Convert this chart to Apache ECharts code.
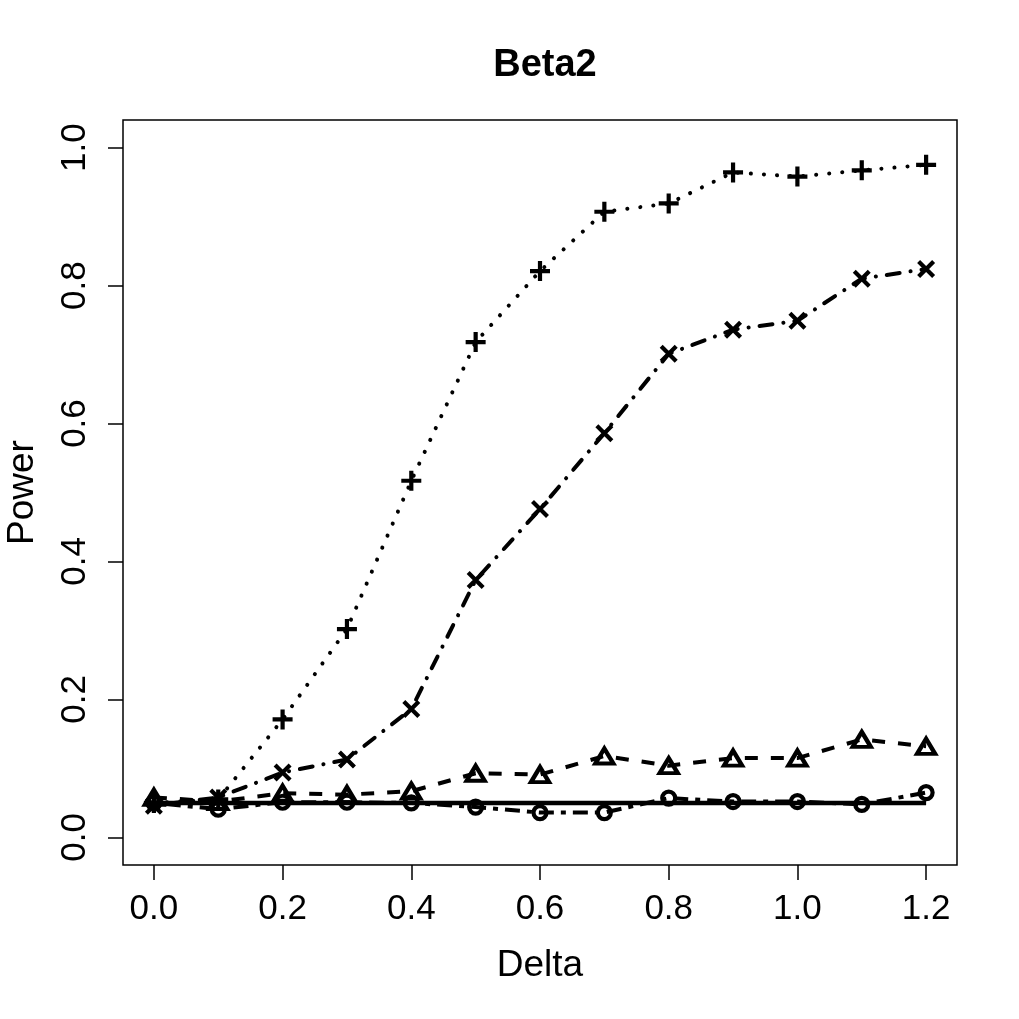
<!DOCTYPE html>
<html>
<head>
<meta charset="utf-8">
<script src="https://cdn.jsdelivr.net/npm/echarts@6/dist/echarts.min.js"></script>
<style>
  html, body { margin: 0; padding: 0; background: #fff; }
  #chart { width: 1019px; height: 1019px; }
</style>
</head>
<body>
<div id="chart"></div>
<script>
// data
const delta = [0.0, 0.1, 0.2, 0.3, 0.4, 0.5, 0.6, 0.7, 0.8, 0.9, 1.0, 1.1, 1.2];
const powerPlus = [0.050, 0.055, 0.171, 0.302, 0.517, 0.718, 0.821, 0.907, 0.919, 0.964, 0.958, 0.967, 0.975];
const powerCross = [0.046, 0.058, 0.094, 0.113, 0.186, 0.373, 0.476, 0.586, 0.701, 0.736, 0.749, 0.810, 0.824];
const powerTriangle = [0.058, 0.052, 0.064, 0.062, 0.067, 0.093, 0.091, 0.118, 0.104, 0.115, 0.115, 0.142, 0.132];
const powerCircle = [0.050, 0.041, 0.051, 0.051, 0.050, 0.044, 0.036, 0.036, 0.057, 0.052, 0.052, 0.048, 0.065];
const nominal = [0.05, 0.05, 0.05, 0.05, 0.05, 0.05, 0.05, 0.05, 0.05, 0.05, 0.05, 0.05, 0.05];
const xTicks = [0.0, 0.2, 0.4, 0.6, 0.8, 1.0, 1.2];
const yTicks = [0.0, 0.2, 0.4, 0.6, 0.8, 1.0];

const FONT = '"Liberation Sans", Arial, sans-serif';
const pairs = (ys) => delta.map((d, i) => [d, ys[i]]);

// 标记样式
const markStyle = { color: 'rgba(0,0,0,0)', borderColor: '#000', borderWidth: 4.2 };

const myChart = echarts.init(document.getElementById('chart'));

const options = {
  animation: false,
  backgroundColor: '#fff',
  title: {
    text: 'Beta2',
    left: 540,
    textAlign: 'center',
    top: 42,
    textStyle: { fontFamily: FONT, fontSize: 38, fontWeight: 'bold', color: '#000' }
  },
  grid: {
    left: 123, right: 62, top: 120, bottom: 154,
    outerBoundsMode: 'none',
    containLabel: false,
    show: true, borderColor: '#000', borderWidth: 1.5, backgroundColor: 'transparent'
  },
  xAxis: {
    type: 'value',
    min: -0.048,
    max: 1.248,
    name: 'Delta',
    nameLocation: 'middle',
    nameGap: 82,
    nameTextStyle: { fontFamily: FONT, fontSize: 37, color: '#000' },
    axisLine: { show: false, onZero: false },
    axisTick: { show: true, inside: false, length: 15, customValues: xTicks, lineStyle: { color: '#000', width: 1.5 } },
    axisLabel: {
      customValues: xTicks,
      margin: 27,
      fontFamily: FONT, fontSize: 35, color: '#000',
      formatter: (v) => v.toFixed(1)
    },
    splitLine: { show: false }
  },
  yAxis: {
    type: 'value',
    min: -0.04,
    max: 1.04,
    name: 'Power',
    nameLocation: 'middle',
    nameGap: 82,
    nameRotate: 90,
    nameTextStyle: { fontFamily: FONT, fontSize: 37, color: '#000' },
    axisLine: { show: false, onZero: false },
    axisTick: { show: true, inside: false, length: 15, customValues: yTicks, lineStyle: { color: '#000', width: 1.5 } },
    axisLabel: {
      customValues: yTicks,
      rotate: 90,
      margin: 30,
      fontFamily: FONT, fontSize: 35, color: '#000',
      formatter: (v) => v.toFixed(1)
    },
    splitLine: { show: false }
  },
  series: [
    {
      name: 'nominal',
      type: 'line',
      data: pairs(nominal),
      showSymbol: false,
      symbol: 'none',
      lineStyle: { color: '#000', width: 4.5, type: 'solid' },
      z: 2
    },
    {
      name: 'plus',
      type: 'line',
      data: pairs(powerPlus),
      symbol: 'path://M5,0L5,10M0,5L10,5',
      symbolSize: 20,
      itemStyle: markStyle,
      lineStyle: { color: '#000', width: 4, type: [0.1, 13], cap: 'round' }
    },
    {
      name: 'cross',
      type: 'line',
      data: pairs(powerCross),
      symbol: 'path://M0,0L10,10M10,0L0,10',
      symbolSize: 15,
      itemStyle: markStyle,
      lineStyle: { color: '#000', width: 4, type: [0.1, 11, 13, 11], cap: 'round' }
    },
    {
      name: 'triangle',
      type: 'line',
      data: pairs(powerTriangle),
      symbol: 'triangle',
      symbolSize: [18, 15],
      itemStyle: markStyle,
      lineStyle: { color: '#000', width: 4, type: [13, 13], cap: 'butt' }
    },
    {
      name: 'circle',
      type: 'line',
      data: pairs(powerCircle),
      symbol: 'circle',
      symbolSize: 13,
      itemStyle: markStyle,
      lineStyle: { color: '#000', width: 4, type: [5, 7, 15, 7], cap: 'butt' }
    }
  ]
};

myChart.setOption(options);
</script>
</body>
</html>
